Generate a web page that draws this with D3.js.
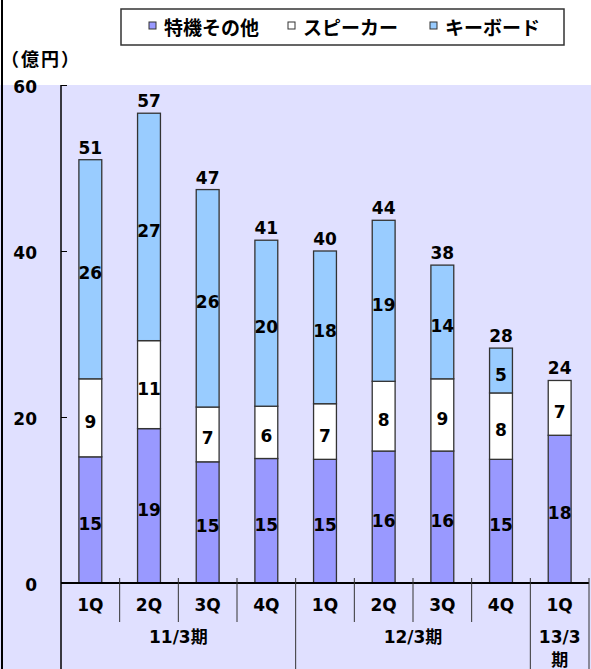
<!DOCTYPE html>
<html>
<head>
<meta charset="utf-8">
<script src="https://cdn.jsdelivr.net/npm/d3@7"></script>
<style>
  html, body { margin: 0; padding: 0; background: #fff; }
  svg { display: block; }
  text { font-family: "DejaVu Sans", "Noto Sans CJK JP", sans-serif; font-weight: bold; fill: #000; }
  text.jp { font-family: "Noto Sans CJK JP", sans-serif; }
</style>
</head>
<body>
<script>
// ---- data ----
const categories = ["1Q", "2Q", "3Q", "4Q", "1Q", "2Q", "3Q", "4Q", "1Q"];
const groupLabels = ["11/3期", "12/3期", "13/3期"];
const groupSizes = [4, 4, 1];
const seriesNames = ["特機その他", "スピーカー", "キーボード"];
const tokki = [15.2, 18.6, 14.6, 15.0, 14.9, 15.9, 15.9, 14.9, 17.8];
const speaker = [9.4, 10.6, 6.6, 6.3, 6.7, 8.4, 8.7, 8.0, 6.6];
const keyboard = [26.4, 27.4, 26.2, 20.0, 18.4, 19.4, 13.7, 5.4, 0];
const yTicks = [0, 20, 40, 60];
const unitLabel = "（億円）";

// ---- styles ----
const colors = ["#9999ff", "#ffffff", "#99ccff"];
const W = 591, H = 669;
const plotLeft = 61, plotRight = 589, plotTop = 85, plotBottom = 583;
const FS = 17;

const svg = d3.select("body").append("svg").attr("width", W).attr("height", H);

// background
svg.append("rect").attr("x", 0).attr("y", 0).attr("width", W).attr("height", H).attr("fill", "#fff");
svg.append("rect").attr("x", 0).attr("y", plotTop).attr("width", W).attr("height", H - plotTop).attr("fill", "#e0e0ff");
svg.append("line").attr("x1", 2).attr("x2", 2).attr("y1", 0).attr("y2", H).attr("stroke", "#000").attr("stroke-width", 2);

// scales
const idx = d3.range(categories.length);
const x = d3.scaleBand().domain(idx).range([plotLeft, plotRight]).padding(0);
const barW = x.bandwidth() * 0.39;
const y = d3.scaleLinear().domain([0, 60]).range([plotBottom, plotTop]);

// stack
const rows = idx.map(i => ({ i, s0: tokki[i], s1: speaker[i], s2: keyboard[i] }));
const stack = d3.stack().keys(["s0", "s1", "s2"])(rows);

// y axis
const yAxis = d3.axisLeft(y).tickValues(yTicks).tickSize(-6).tickFormat("");
const gy = svg.append("g").attr("transform", `translate(${plotLeft},0)`).call(yAxis);
gy.select(".domain").remove();
gy.selectAll(".tick line").attr("stroke", "#000").attr("stroke-width", 1);
svg.append("line").attr("x1", plotLeft).attr("x2", plotLeft).attr("y1", plotTop).attr("y2", H)
  .attr("stroke", "#000").attr("stroke-width", 1.5);
svg.selectAll(".ylab").data(yTicks).enter().append("text")
  .attr("x", 37).attr("y", d => y(d) + 2)
  .attr("text-anchor", "end").attr("dominant-baseline", "central")
  .attr("font-size", FS).text(d => d);
svg.append("text").attr("class", "jp").attr("x", 1).attr("y", 58).attr("dominant-baseline", "central")
  .attr("letter-spacing", 2).attr("font-size", 18).text(unitLabel);

// bars
stack.forEach((layer, k) => {
  svg.append("g").selectAll("rect").data(layer.filter(d => d[1] - d[0] > 0)).enter().append("rect")
    .attr("x", d => x(d.data.i) + (x.bandwidth() - barW) / 2)
    .attr("width", barW)
    .attr("y", d => y(d[1]))
    .attr("height", d => y(d[0]) - y(d[1]))
    .attr("fill", colors[k])
    .attr("stroke", "#333").attr("stroke-width", 1.3);
});
// segment labels
stack.forEach((layer, k) => {
  svg.append("g").selectAll("text").data(layer.filter(d => d[1] - d[0] > 0)).enter().append("text")
    .attr("x", d => x(d.data.i) + x.bandwidth() / 2)
    .attr("y", d => (y(d[0]) + y(d[1])) / 2 + 4)
    .attr("text-anchor", "middle").attr("dominant-baseline", "central")
    .attr("font-size", FS)
    .text(d => Math.round(d[1] - d[0]));
});
// totals
svg.append("g").selectAll("text").data(rows).enter().append("text")
  .attr("x", d => x(d.i) + x.bandwidth() / 2)
  .attr("y", d => y(d.s0 + d.s1 + d.s2) - 6)
  .attr("text-anchor", "middle")
  .attr("font-size", FS)
  .text(d => Math.round(d.s0 + d.s1 + d.s2));

// x axis
svg.append("line").attr("x1", plotLeft).attr("x2", plotRight).attr("y1", plotBottom).attr("y2", plotBottom)
  .attr("stroke", "#000").attr("stroke-width", 2);
const groupEnds = [];
let acc = 0;
groupSizes.forEach(n => { acc += n; groupEnds.push(acc); });
d3.range(1, categories.length + 1).forEach(b => {
  const bx = b < categories.length ? x(b) : plotRight;
  const isGroup = groupEnds.includes(b);
  svg.append("line").attr("x1", bx).attr("x2", bx).attr("y1", plotBottom - 5)
    .attr("y2", isGroup ? H : 622).attr("stroke", "#333").attr("stroke-width", 1);
});
svg.selectAll(".xlab").data(idx).enter().append("text")
  .attr("x", i => x(i) + x.bandwidth() / 2).attr("y", 605)
  .attr("text-anchor", "middle").attr("dominant-baseline", "central")
  .attr("font-size", FS).text(i => categories[i]);
let start = 0;
groupLabels.forEach((g, gi) => {
  const n = groupSizes[gi];
  const cx = (x(start) + (start + n < categories.length ? x(start + n) : plotRight)) / 2;
  const t = svg.append("text").attr("text-anchor", "middle").attr("font-size", FS);
  if (n === 1) {
    t.append("tspan").attr("x", cx).attr("y", 643).text(g.replace("期", ""));
    t.append("tspan").attr("x", cx).attr("y", 666).text("期");
  } else {
    t.attr("x", cx).attr("y", 643).text(g);
  }
  start += n;
});

// legend
const lg = svg.append("g");
lg.append("rect").attr("x", 121).attr("y", 9).attr("width", 443).attr("height", 36)
  .attr("fill", "#fff").attr("stroke", "#333").attr("stroke-width", 1.5);
const legX = [149, 288, 430];
seriesNames.forEach((n, k) => {
  lg.append("rect").attr("x", legX[k]).attr("y", 22).attr("width", 7).attr("height", 7)
    .attr("fill", colors[k]).attr("stroke", "#333").attr("stroke-width", 1);
  lg.append("text").attr("class", "jp").attr("x", legX[k] + 15).attr("y", 26).attr("dominant-baseline", "central")
    .attr("font-size", 19).text(n);
});
</script>
</body>
</html>
